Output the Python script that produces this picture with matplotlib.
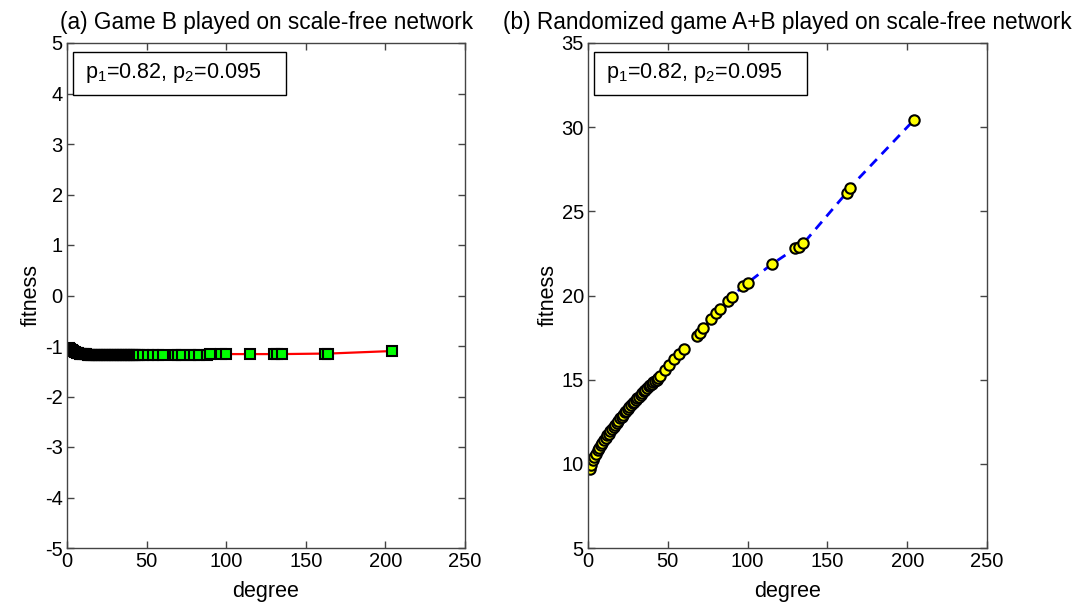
import numpy as np
import matplotlib
matplotlib.use("Agg")
import matplotlib.pyplot as plt
from matplotlib.patches import Rectangle

plt.rcParams['font.family'] = ['Liberation Sans', 'DejaVu Sans']
plt.rcParams['mathtext.default'] = 'regular'
plt.rcParams['axes.unicode_minus'] = False

# node degrees (dense low-degree part, then the sparse hubs)
degree = list(range(1, 46)) + [48, 51, 54, 57, 60, 68, 70, 72, 77, 80, 83, 88, 90,
                               97, 100, 115, 130, 132, 135, 162, 164, 204]

# (a) game B alone
fitness_b = [-1.03, -1.06, -1.08, -1.10, -1.12, -1.13, -1.14, -1.15, -1.155, -1.16,
             -1.165, -1.165, -1.17, -1.17, -1.17, -1.17, -1.175, -1.175, -1.175, -1.175,
             -1.175, -1.175, -1.175, -1.175, -1.175, -1.175, -1.175, -1.175, -1.175, -1.175,
             -1.175, -1.175, -1.175, -1.175, -1.175, -1.175, -1.175, -1.175, -1.175, -1.175,
             -1.175, -1.175, -1.175, -1.175, -1.175,
             -1.17, -1.17, -1.17, -1.17, -1.17, -1.17, -1.17, -1.17, -1.17, -1.17,
             -1.17, -1.17, -1.16, -1.16, -1.16, -1.16, -1.16, -1.16, -1.16, -1.15,
             -1.15, -1.10]

# (b) randomized A+B
fitness_ab = [9.7, 9.95, 10.2, 10.4, 10.6, 10.8, 10.95, 11.1, 11.25, 11.4,
              11.55, 11.7, 11.8, 11.95, 12.05, 12.2, 12.3, 12.45, 12.55, 12.7,
              12.8, 12.9, 13.05, 13.15, 13.25, 13.4, 13.5, 13.6, 13.7, 13.8,
              13.9, 14.0, 14.1, 14.2, 14.3, 14.4, 14.5, 14.6, 14.7, 14.75,
              14.85, 14.95, 15.0, 15.1, 15.2,
              15.55, 15.85, 16.2, 16.55, 16.85, 17.6, 17.8, 18.05, 18.6, 18.95,
              19.2, 19.7, 19.9, 20.55, 20.75, 21.85, 22.8, 22.9, 23.1, 26.1,
              26.4, 30.4]

label_text = 'p$_1$=0.82, p$_2$=0.095'

fig = plt.figure(figsize=(10.83, 6.02), dpi=100)
ax1 = fig.add_axes([67 / 1083, 54 / 602, 398 / 1083, 505 / 602])
ax2 = fig.add_axes([588 / 1083, 54 / 602, 399 / 1083, 505 / 602])

ax1.plot(degree, fitness_b, '-', color='red', lw=1.6, marker='s', ms=7.5,
         mfc='#00ff00', mec='black', mew=1.5)
ax2.plot(degree, fitness_ab, '--', color='blue', lw=2.0, dashes=(3.5, 2.5),
         marker='o', ms=7.5, mfc='yellow', mec='black', mew=1.5)

ax1.set_ylim(-5, 5)
ax1.set_yticks(np.arange(-5, 6, 1))
ax2.set_ylim(5, 35)
ax2.set_yticks(np.arange(5, 36, 5))

ax1.set_title('(a) Game B played on scale-free network', fontsize=16.3, pad=10)
ax2.set_title('(b) Randomized game A+B played on scale-free network', fontsize=16.3, pad=10)

for ax in (ax1, ax2):
    ax.set_xlim(0, 250)
    ax.set_xticks(np.arange(0, 251, 50))
    ax.set_xlabel('degree', fontsize=15.5, labelpad=7)
    ax.set_ylabel('fitness', fontsize=15.5, labelpad=2)
    ax.tick_params(direction='in', length=5, width=1, top=True, right=True,
                   labelsize=14.5, pad=3, color='#444444')
    for s in ax.spines.values():
        s.set_color('#444444')
        s.set_linewidth(1.0)
    ax.add_patch(Rectangle((0.014, 0.898), 0.536, 0.084, transform=ax.transAxes,
                           fill=True, facecolor='white', edgecolor='black', lw=1.0,
                           zorder=5))
    ax.text(0.045, 0.94, label_text, transform=ax.transAxes, fontsize=15.5,
            va='center', ha='left', zorder=6)

fig.savefig('out.png', dpi=100)
